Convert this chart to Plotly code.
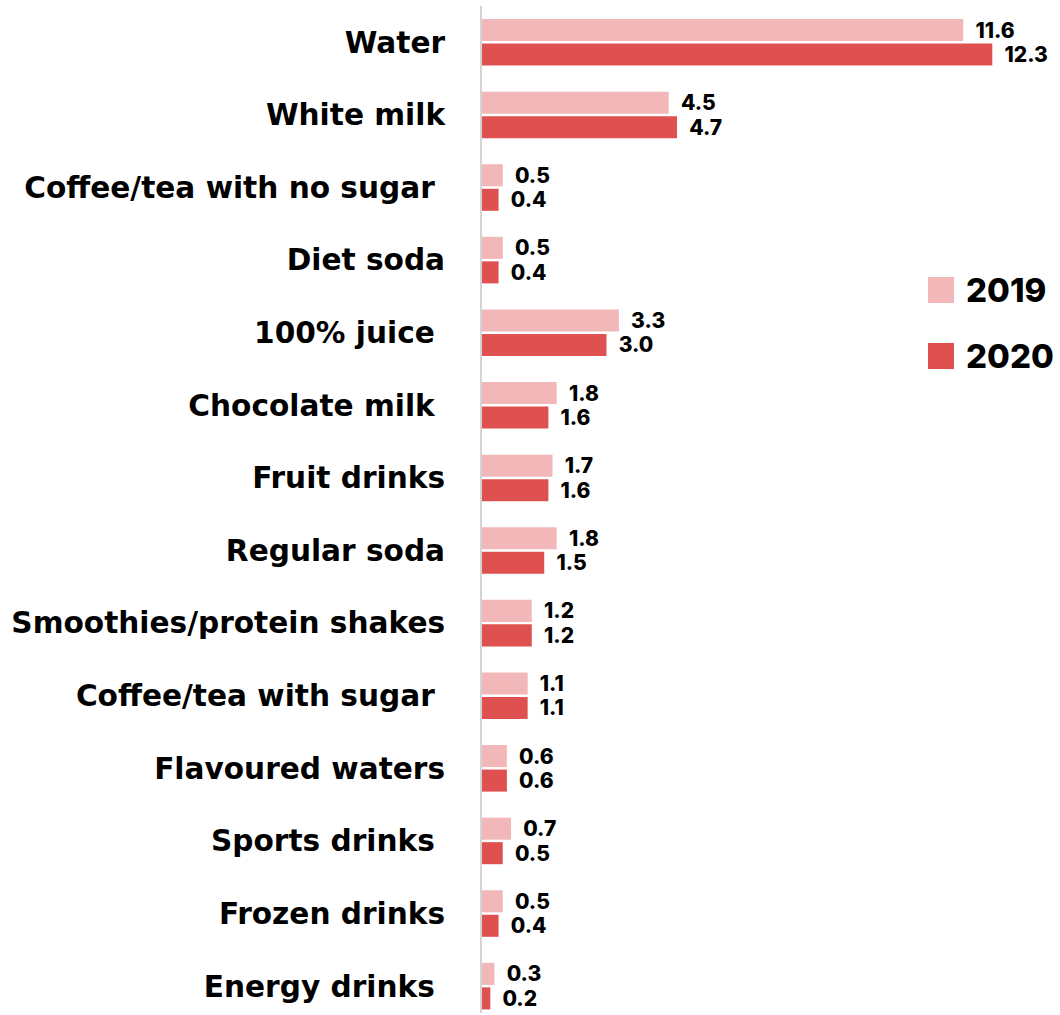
import plotly.graph_objects as go

# Average daily servings by beverage type
categories = [
    "Water", "White milk", "Coffee/tea with no sugar", "Diet soda", "100% juice",
    "Chocolate milk", "Fruit drinks", "Regular soda", "Smoothies/protein shakes",
    "Coffee/tea with sugar", "Flavoured waters", "Sports drinks", "Frozen drinks",
    "Energy drinks",
]
values_2019 = [11.6, 4.5, 0.5, 0.5, 3.3, 1.8, 1.7, 1.8, 1.2, 1.1, 0.6, 0.7, 0.5, 0.3]
values_2020 = [12.3, 4.7, 0.4, 0.4, 3.0, 1.6, 1.6, 1.5, 1.2, 1.1, 0.6, 0.5, 0.4, 0.2]
series_names = ["2019", "2020"]
colors = ["#F2B7B8", "#DF5051"]
# a few labels carry a trailing space in the source table
padded = {"Coffee/tea with no sugar", "100% juice", "Chocolate milk",
          "Coffee/tea with sugar", "Sports drinks", "Energy drinks"}
tick_text = [c + "\u00a0" if c in padded else c for c in categories]

VALUE_FONT = "Inter"
CAT_FONT = "DejaVu Sans"
label_font = dict(family=VALUE_FONT, size=21, color="#000000", weight=800)

fig = go.Figure()
for name, vals, col in zip(series_names, [values_2019, values_2020], colors):
    fig.add_trace(go.Bar(
        y=categories, x=vals, name=name, orientation="h",
        marker=dict(color=col, line=dict(width=0)),
        texttemplate="\u00a0\u00a0%{x:.1f}", textposition="outside",
        textfont=label_font, constraintext="none", cliponaxis=False,
        showlegend=False, hoverinfo="skip",
    ))

fig.update_layout(
    width=1060, height=1015,
    margin=dict(l=482, r=20, t=6, b=2),
    paper_bgcolor="white", plot_bgcolor="white",
    barmode="group", bargap=0.325, bargroupgap=0.1,
    font=dict(family=VALUE_FONT, color="#000000"),
    xaxis=dict(range=[0, 13.45], visible=False),
    yaxis=dict(
        type="category", categoryarray=categories, range=[13.37, -0.5],
        tickvals=categories, ticktext=tick_text,
        showline=True, linecolor="#D4D4D4", linewidth=2, showgrid=False,
        ticks="outside", ticklen=29, tickcolor="rgba(0,0,0,0)",
        tickfont=dict(family=CAT_FONT, size=29.6, color="#000000", weight=700),
    ),
)

# Legend: colour swatches with year labels
legend_rows = [(290, series_names[0], colors[0]), (356, series_names[1], colors[1])]
for yc, name, col in legend_rows:
    fig.add_shape(type="rect", xref="paper", yref="paper",
                  x0=(928 - 482) / 558, x1=(954 - 482) / 558,
                  y0=(1015 - 2 - (yc + 13)) / 1007, y1=(1015 - 2 - (yc - 13)) / 1007,
                  fillcolor=col, line=dict(width=0))
    fig.add_annotation(xref="paper", yref="paper",
                       x=(964 - 482) / 558, y=(1015 - 2 - yc) / 1007,
                       xanchor="left", yanchor="middle", showarrow=False,
                       text=name, font=dict(family=VALUE_FONT, size=33, color="#000000", weight=800))

fig.write_html("out.html")
